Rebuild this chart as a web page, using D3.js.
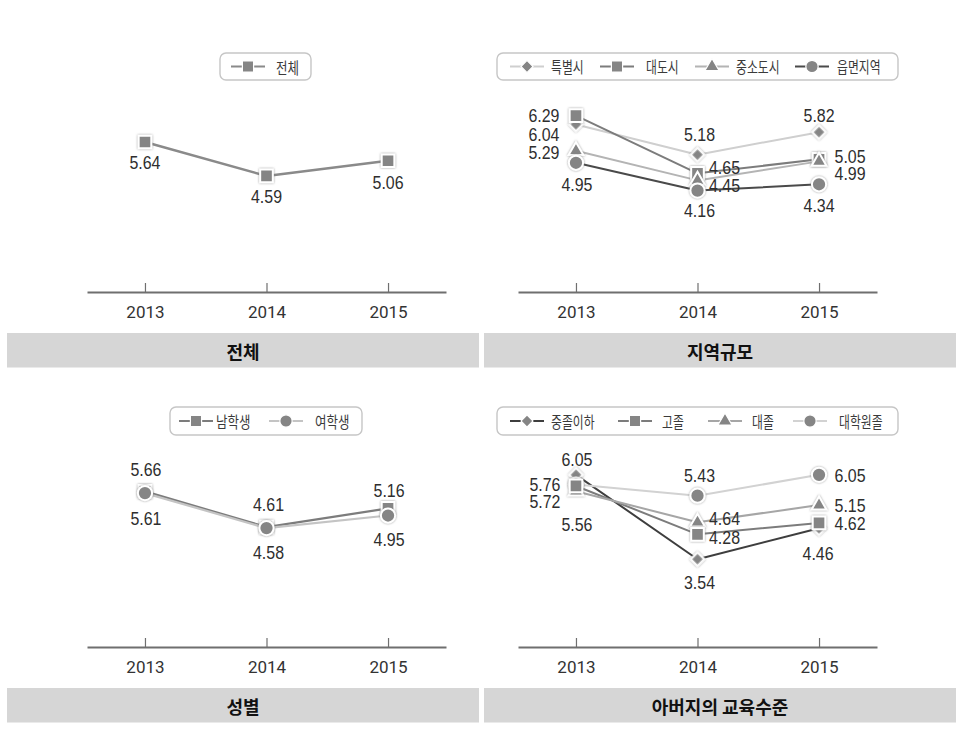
<!DOCTYPE html>
<html><head><meta charset="utf-8">
<script src="https://cdn.jsdelivr.net/npm/d3@7"></script>
<style>html,body{margin:0;padding:0;background:#fff}</style>
</head><body>
<script>
// ---------- data ----------
const years = ["2013", "2014", "2015"];
const panelTitles = ["전체", "지역규모", "성별", "아버지의 교육수준"];

const totalSeries = ["전체"];
const totalValues = [[5.64, 4.59, 5.06]];

const regionSeries = ["특별시", "대도시", "중소도시", "읍면지역"];
const regionValues = [
  [6.04, 5.18, 5.82],
  [6.29, 4.65, 5.05],
  [5.29, 4.45, 4.99],
  [4.95, 4.16, 4.34]
];

const genderSeries = ["남학생", "여학생"];
const genderValues = [
  [5.66, 4.61, 5.16],
  [5.61, 4.58, 4.95]
];

const eduSeries = ["중졸이하", "고졸", "대졸", "대학원졸"];
const eduValues = [
  [6.05, 3.54, 4.46],
  [5.72, 4.28, 4.62],
  [5.56, 4.64, 5.15],
  [5.76, 5.43, 6.05]
];

// ---------- layout / style ----------
const W = 973, H = 729;
const svg = d3.select("body").append("svg").attr("width", W).attr("height", H)
  .style("font-family", "'Liberation Sans', Arial, sans-serif");

const defs = svg.append("defs");
defs.append("filter").attr("id", "glow").attr("x", "-50%").attr("y", "-50%").attr("width", "200%").attr("height", "200%")
  .append("feDropShadow").attr("dx", 0).attr("dy", 0).attr("stdDeviation", 1.1)
  .attr("flood-color", "#777").attr("flood-opacity", 0.75);

const MARK_FILL = "#858585";
const KR = "'Noto Sans CJK KR', 'Noto Sans', sans-serif";

const shapes = {
  square: {type: d3.symbolSquare, size: 160, rot: 0, lsize: 125},
  diamond: {type: d3.symbolSquare, size: 88, rot: 45, lsize: 72},
  triangle: {type: d3.symbolTriangle, size: 95, rot: 0, lsize: 85},
  circle: {type: d3.symbolCircle, size: 160, rot: 0, lsize: 120}
};

const panels = [
  {
    ox: 0, axisY: 292, yDomain: [1, 7], title: panelTitles[0],
    names: totalSeries, values: totalValues,
    shapes: ["square"], colors: ["#8a8a8a"], widths: [2.5],
    offsets: [[[0, 21], [0, 21], [0, 22]]],
    order: [0],
    legend: {box: [220, 53, 91, 27], marks: [248], texts: [276], sx: 0.78}
  },
  {
    ox: 431, axisY: 292, yDomain: [1.28, 6.79], title: panelTitles[1],
    names: regionSeries, values: regionValues,
    shapes: ["diamond", "square", "triangle", "circle"],
    colors: ["#cfcfcf", "#7c7c7c", "#b4b4b4", "#4a4a4a"], widths: [2, 2, 2, 2],
    offsets: [
      [[-32, 10], [2, -20], [0, -17]],
      [[-32, 0], [27, -6], [31, -3]],
      [[-32, 2], [27, 5], [31, 12]],
      [[1, 22], [2, 20], [0, 21]]
    ],
    order: [0, 1, 2, 3],
    legend: {box: [497, 53, 401, 27], marks: [527, 617, 712, 812], texts: [551, 646, 736, 837], sx: 0.74}
  },
  {
    ox: 0, axisY: 647, yDomain: [1.08, 6.79], title: panelTitles[2],
    names: genderSeries, values: genderValues,
    shapes: ["square", "circle"], colors: ["#7c7c7c", "#c4c4c4"], widths: [2.2, 2.2],
    offsets: [
      [[1, -22], [2, -23], [1, -18]],
      [[1, 25], [2, 24], [1, 24]]
    ],
    order: [0, 1],
    legend: {box: [170, 407, 192, 28], marks: [196, 286], texts: [216, 315], sx: 0.78}
  },
  {
    ox: 431, axisY: 647, yDomain: [0.93, 6.70], title: panelTitles[3],
    names: eduSeries, values: eduValues,
    shapes: ["diamond", "square", "triangle", "circle"],
    colors: ["#3e3e3e", "#7c7c7c", "#a6a6a6", "#d2d2d2"], widths: [2, 2, 2, 2],
    offsets: [
      [[1, -15], [2, 23], [-1, 25]],
      [[-31, 16], [27, 3], [31, 1]],
      [[1, 33], [27, -4], [31, 0]],
      [[-31, 0], [2, -20], [31, 1]]
    ],
    order: [0, 2, 3, 1],
    legend: {box: [497, 407, 401, 28], marks: [527, 635, 725, 810], texts: [551, 662, 752, 839], sx: 0.74}
  }
];

function drawMarker(g, shapeName, x, y, legend) {
  const s = shapes[shapeName];
  g.append("path")
    .attr("d", d3.symbol().type(s.type).size(legend ? s.lsize : s.size)())
    .attr("transform", `translate(${x},${y}) rotate(${s.rot})`)
    .attr("fill", MARK_FILL)
    .attr("stroke", "#fff")
    .attr("stroke-width", legend ? 1.2 : 2)
    .attr("filter", legend ? null : "url(#glow)");
}

panels.forEach((p, pi) => {
  const g = svg.append("g");
  const x = d3.scalePoint().domain(years).range([87 + p.ox, 446 + p.ox]).padding(0.477);
  const y = d3.scaleLinear().domain(p.yDomain).range([p.axisY, p.axisY - 194]);

  // axis
  const axis = d3.axisBottom(x).tickSize(-9).tickSizeOuter(0).tickPadding(14);
  const ag = g.append("g").attr("transform", `translate(0,${p.axisY})`).call(axis);
  ag.select(".domain").attr("stroke", "#6f6f6f").attr("stroke-width", 2);
  ag.selectAll(".tick line").attr("stroke", "#6f6f6f").attr("stroke-width", 1.2);
  ag.selectAll(".tick text").attr("fill", "#333").style("font-family", "Roboto, sans-serif").style("font-size", "17px");

  // title band
  const bandY = p.axisY + 41;
  g.append("rect").attr("x", p.ox === 0 ? 7 : 484).attr("y", bandY).attr("width", 472).attr("height", 34.5).attr("fill", "#d6d6d6");
  g.append("text").attr("x", p.ox === 0 ? 243 : 720).attr("y", bandY + 17.5)
    .attr("text-anchor", "middle").attr("dominant-baseline", "central")
    .style("font-family", KR).style("font-weight", "bold").style("font-size", "18px").attr("fill", "#111")
    .text(p.title);

  // lines
  const line = d3.line().x((d, i) => x(years[i])).y(d => y(d));
  p.values.forEach((vals, si) => {
    g.append("path").datum(vals).attr("d", line)
      .attr("fill", "none").attr("stroke", p.colors[si]).attr("stroke-width", p.widths[si])
      .attr("stroke-linejoin", "round");
  });
  // markers
  p.order.forEach(si => {
    p.values[si].forEach((v, i) => drawMarker(g, p.shapes[si], x(years[i]), y(v), false));
  });
  // labels
  p.values.forEach((vals, si) => {
    vals.forEach((v, i) => {
      const [dx, dy] = p.offsets[si][i];
      g.append("text")
        .attr("transform", `translate(${x(years[i]) + dx},${y(v) + dy}) scale(0.84,1)`)
        .attr("text-anchor", "middle").attr("dominant-baseline", "central")
        .style("font-size", "19px").attr("fill", "#2e2e2e")
        .text(v.toFixed(2));
    });
  });

  // legend
  const L = p.legend;
  const ly = L.box[1] + L.box[3] / 2;
  g.append("rect").attr("x", L.box[0]).attr("y", L.box[1]).attr("width", L.box[2]).attr("height", L.box[3])
    .attr("rx", 6).attr("fill", "#fff").attr("stroke", "#c6c6c6").attr("stroke-width", 1.4);
  p.names.forEach((name, si) => {
    const mx = L.marks[si];
    g.append("line").attr("x1", mx - 17).attr("x2", mx + 17).attr("y1", ly).attr("y2", ly)
      .attr("stroke", p.colors[si]).attr("stroke-width", 2);
    drawMarker(g, p.shapes[si], mx, ly, true);
    g.append("text")
      .attr("transform", `translate(${L.texts[si]},${ly}) scale(${L.sx},1)`)
      .attr("dominant-baseline", "central")
      .style("font-family", KR).style("font-size", "16px").attr("fill", "#3a3a3a")
      .text(name);
  });
});
</script>
</body></html>
